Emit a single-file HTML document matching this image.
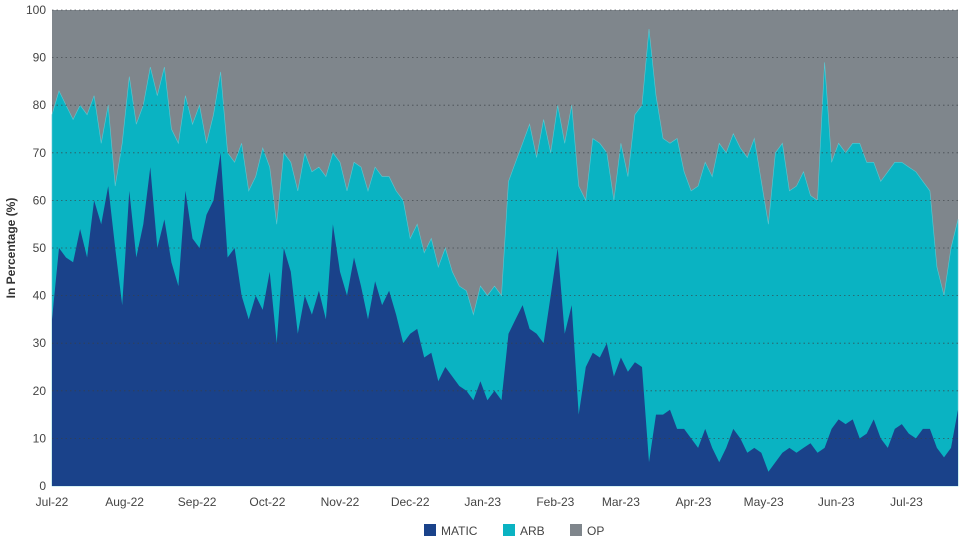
<!DOCTYPE html>
<html><head><meta charset="utf-8">
<style>
html,body{margin:0;padding:0;background:#fff;}
body{width:960px;height:540px;overflow:hidden;font-family:"Liberation Sans",sans-serif;}
svg text{font-family:"Liberation Sans",sans-serif;}
</style></head>
<body>
<svg id="chart" width="960" height="540" viewBox="0 0 960 540" xmlns="http://www.w3.org/2000/svg">
<g id="areas"></g>
<g id="grid"></g>
<g id="yaxis"></g>
<g id="xaxis"></g>
<text x="0" y="0" transform="translate(15,248) rotate(-90)" text-anchor="middle" font-size="12" font-weight="bold" fill="#333">In Percentage (%)</text>
<g>
 <g><rect x="424" y="524" width="12" height="12" fill="#1a428a"/><text x="441" y="535" font-size="12" fill="#444">MATIC</text></g>
 <g><rect x="503" y="524" width="12" height="12" fill="#0ab3c2"/><text x="520" y="535" font-size="12" fill="#444">ARB</text></g>
 <g><rect x="570" y="524" width="12" height="12" fill="#7f868c"/><text x="587" y="535" font-size="12" fill="#444">OP</text></g>
</g>
</svg>
<script>
const matic=[35,50,48,47,54,48,60,55,63,50,38,62,48,55,67,50,56,47,42,62,52,50,57,60,70,48,50,40,35,40,37,45,30,50,45,32,40,36,41,35,55,45,40,48,42,35,43,38,41,36,30,32,33,27,28,22,25,23,21,20,18,22,18,20,18,32,35,38,33,32,30,40,50,32,38,15,25,28,27,30,23,27,24,26,25,5,15,15,16,12,12,10,8,12,8,5,8,12,10,7,8,7,3,5,7,8,7,8,9,7,8,12,14,13,14,10,11,14,10,8,12,13,11,10,12,12,8,6,8,16];
const arb=[43,33,32,30,26,30,22,17,17,13,34,24,28,25,21,32,32,28,30,20,24,30,15,18,17,22,18,32,27,25,34,22,25,20,23,30,30,30,26,30,15,23,22,20,25,27,24,27,24,26,30,20,22,22,24,24,25,22,21,21,18,20,22,22,22,32,33,34,43,37,47,30,30,40,42,48,35,45,45,40,37,45,41,52,55,91,67,58,56,61,54,52,55,56,57,67,62,62,61,62,65,57,52,65,65,54,56,58,52,53,81,56,58,57,58,62,57,54,54,58,56,55,56,56,52,50,38,34,42,40];
const yTicks=[0,10,20,30,40,50,60,70,80,90,100];
const xLabels=["Jul-22","Aug-22","Sep-22","Oct-22","Nov-22","Dec-22","Jan-23","Feb-23","Mar-23","Apr-23","May-23","Jun-23","Jul-23"];
const xLabelDays=[0,31,62,92,123,153,184,215,243,274,304,335,365];
const X0=52,X1=958,Y0=486,Y1=10;
const n=matic.length;
const dayStep=3;
const totalDays=(n-1)*dayStep;
function xDay(d){return X0+(X1-X0)*d/totalDays;}
function xIdx(i){return xDay(i*dayStep);}
function y(v){return Y0-(Y0-Y1)*v/100;}
const NS="http://www.w3.org/2000/svg";
function mk(tag,attrs,parent){const e=document.createElementNS(NS,tag);for(const k in attrs)e.setAttribute(k,attrs[k]);parent.appendChild(e);return e;}
const areas=document.getElementById('areas');
const opPath="M"+X0+","+y(100)+" L"+X1+","+y(100)+" L"+X1+","+y(0)+" L"+X0+","+y(0)+"Z";
const op=mk('path',{d:opPath,fill:'#7f868c'},areas);


const stackTop=[];
for(let i=0;i<n;i++){stackTop.push(matic[i]+arb[i]);}
let d="M"+X0+","+y(0);
for(let i=0;i<n;i++)d+=" L"+xIdx(i).toFixed(1)+","+y(stackTop[i]).toFixed(1);
d+=" L"+X1+","+y(0)+"Z";
const arbP=mk('path',{d:d,fill:'#0ab3c2',stroke:'#5cc8d2','stroke-width':0.6},areas);


d="M"+X0+","+y(0);
for(let i=0;i<n;i++)d+=" L"+xIdx(i).toFixed(1)+","+y(matic[i]).toFixed(1);
d+=" L"+X1+","+y(0)+"Z";
const mP=mk('path',{d:d,fill:'#1a428a'},areas);


const grid=document.getElementById('grid'),ya=document.getElementById('yaxis'),xa=document.getElementById('xaxis');
yTicks.forEach(t=>{
  if(t>0){const l=mk('line',{x1:X0,x2:X1,y1:y(t),y2:y(t),stroke:'#3a3f44','stroke-width':0.8,'stroke-dasharray':'1.5,3',opacity:0.8},grid);
  
  }
  const tx=mk('text',{x:46,y:y(t)+4,'text-anchor':'end','font-size':12,fill:'#444'},ya);
  tx.textContent=t;
  
  
});
xLabels.forEach((lab,i)=>{
  const tx=mk('text',{x:xDay(xLabelDays[i]),y:506,'text-anchor':'middle','font-size':12,fill:'#444'},xa);
  tx.textContent=lab;
  
  
});
</script>
</body></html>
